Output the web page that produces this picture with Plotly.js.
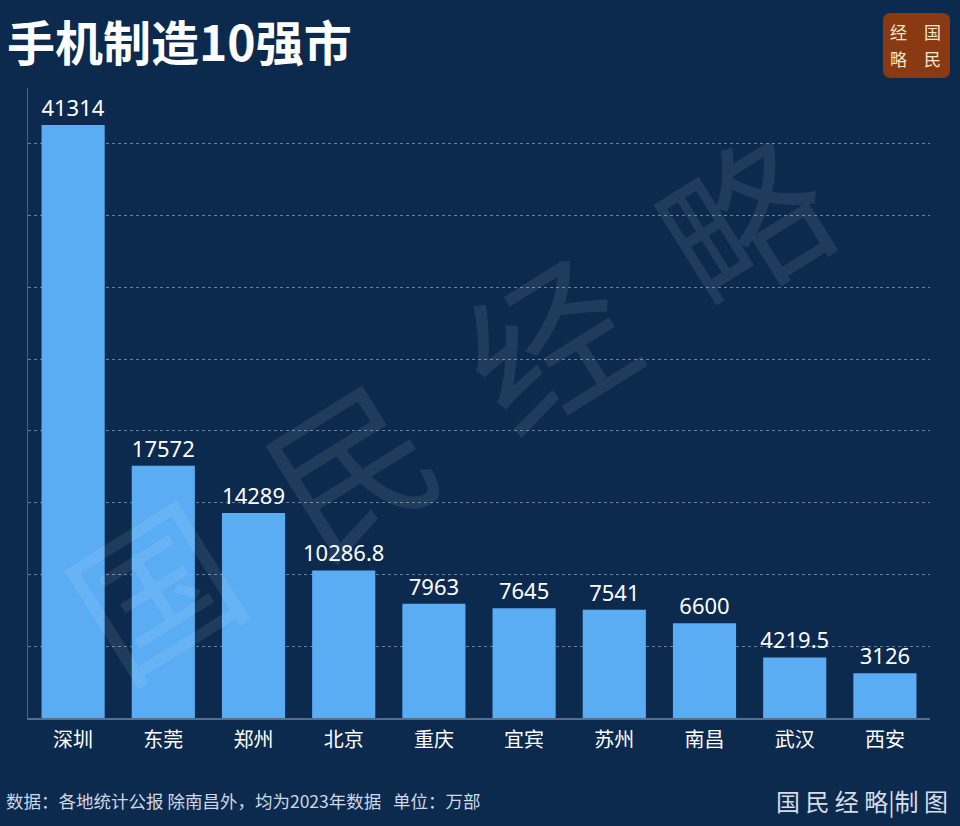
<!DOCTYPE html>
<html>
<head>
<meta charset="utf-8">
<script src="https://cdn.plot.ly/plotly-3.0.1.min.js"></script>
<style>
html,body{margin:0;padding:0;background:#0c2a4d;}
#chart{width:960px;height:826px;}
</style>
</head>
<body>
<div id="chart"></div>
<script>
const cities = ["深圳","东莞","郑州","北京","重庆","宜宾","苏州","南昌","武汉","西安"];
const output = [41314, 17572, 14289, 10286.8, 7963, 7645, 7541, 6600, 4219.5, 3126];
const valueLabels = ["41314","17572","14289","10286.8","7963","7645","7541","6600","4219.5","3126"];
const titleText = "手机制造10强市";
const sourceText = "数据：各地统计公报 除南昌外，均为2023年数据   单位：万部";
const creditText = "国 民 经 略|制 图";
const logoChars = ["经","国","略","民"];
const watermarkText = "国  民  经  略";

const bg = "#0c2a4d";
const font = "Noto Sans CJK SC, Noto Sans, sans-serif";

const trace = {
  type: "bar",
  x: cities,
  y: output,
  text: valueLabels,
  texttemplate: "%{text}",
  textposition: "outside",
  constraintext: "none",
  cliponaxis: false,
  textfont: {color: "#ffffff", size: 22, family: "Noto Sans, sans-serif"},
  marker: {color: "#5aacf3", line: {width: 0}},
  width: 0.7,
  hoverinfo: "skip"
};

const logoPos = [[898, 31], [932, 31], [898, 59], [932, 59]];
const logoAnns = logoChars.map((c, i) => ({
  text: c, xref: "paper", yref: "paper",
  x: (logoPos[i][0] - 28) / 902, y: (718 - logoPos[i][1]) / 630,
  xanchor: "center", yanchor: "middle", showarrow: false,
  font: {size: 17, color: "#f6e8cf", family: font}
}));

const layout = {
  width: 960, height: 826,
  paper_bgcolor: bg, plot_bgcolor: bg,
  margin: {l: 28, r: 30, t: 88, b: 108},
  showlegend: false,
  font: {family: font, color: "#ffffff"},
  xaxis: {
    type: "category",
    showgrid: false,
    showline: true, linecolor: "rgba(150,165,190,0.55)", linewidth: 1.5,
    ticks: "",
    tickfont: {size: 20, color: "#ffffff", family: font},
    ticklabelstandoff: 3,
    zeroline: false
  },
  yaxis: {
    range: [0, 43900],
    dtick: 5000,
    showticklabels: false,
    showgrid: true,
    gridcolor: "rgba(170,185,210,0.6)",
    griddash: "dot",
    gridwidth: 1,
    showline: true, linecolor: "rgba(150,165,190,0.45)", linewidth: 1.5,
    zeroline: false,
    ticks: ""
  },
  shapes: [
    {
      type: "path", xref: "paper", yref: "paper",
      xsizemode: "pixel", ysizemode: "pixel", xanchor: 1, yanchor: 1,
      path: "M -39 10 L 12 10 Q 20 10 20 18 L 20 67 Q 20 75 12 75 L -39 75 Q -47 75 -47 67 L -47 18 Q -47 10 -39 10 Z",
      fillcolor: "#8a3a12", line: {width: 0}, layer: "above"
    }
  ],
  annotations: [
    {text: watermarkText, xref: "paper", yref: "paper", x: (445-28)/902, y: (718-400)/630,
     xanchor: "center", yanchor: "middle", showarrow: false, textangle: -32,
     font: {size: 160, color: "rgba(255,255,255,0.085)", family: font, weight: 400}},
    {text: titleText, xref: "paper", yref: "paper", x: -23/902, y: (718-40)/630,
     xanchor: "left", yanchor: "middle", showarrow: false,
     font: {size: 48, color: "#ffffff", family: font, weight: 700}},
    ...logoAnns,
    {text: sourceText, xref: "paper", yref: "paper", x: -24/902, y: (718-800)/630,
     xanchor: "left", yanchor: "middle", showarrow: false,
     font: {size: 17.5, color: "#cfd8e6", family: font}},
    {text: creditText, xref: "paper", yref: "paper", x: (950-28)/902, y: (718-800)/630,
     xanchor: "right", yanchor: "middle", showarrow: false,
     font: {size: 24, color: "#d5dde9", family: font}}
  ]
};

Plotly.newPlot("chart", [trace], layout, {displayModeBar: false, staticPlot: true});
</script>
</body>
</html>
